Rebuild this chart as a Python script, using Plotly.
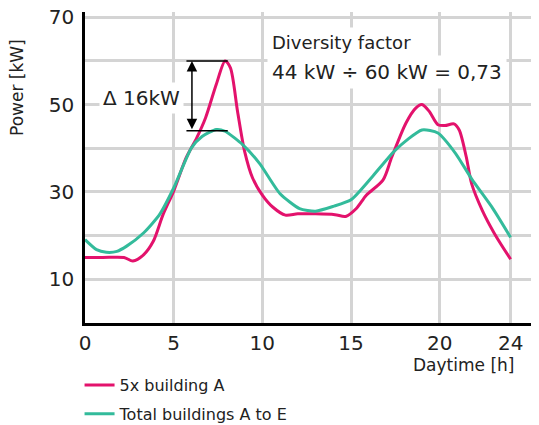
import plotly.graph_objects as go

# ---- data ----
hours_a = [0, 1, 2.2, 2.7, 3.3, 3.85, 4.4, 5, 5.7, 6.3, 6.8, 7.4, 7.9, 8.2, 8.6, 9.0, 9.45, 10,
           10.6, 11.3, 12, 13, 14.1, 14.7, 15.3, 15.85, 16.8, 17.3, 18.1, 18.65, 19, 19.4, 19.9,
           20.3, 20.8, 21.1, 21.5, 21.8, 22.4, 23.1, 24]
power_a = [15, 15, 15, 14.2, 15.6, 18.7, 24.8, 30.2, 37.8, 42.4, 47, 54.6, 60, 58.4, 48.5, 39.3, 33.2, 29.3,
           26.5, 24.7, 25, 25, 24.8, 24.4, 26.2, 29.2, 32.7, 38, 45.8, 49.2, 50, 48.5, 45.4,
           45.2, 45.6, 44.2, 38, 31.9, 25.8, 20.4, 14.6]

hours_t = [0, 0.65, 1.2, 1.8, 2.35, 3.3, 4.2, 5, 6, 6.6, 7.4, 7.9, 8.9, 9.85, 11, 12.1, 13, 14, 15,
           16.2, 17.5, 19, 19.9, 20.9, 21.8, 23, 24]
power_t = [19.1, 16.8, 16.2, 16.4, 17.6, 20.6, 24.8, 30.9, 40.1, 42.7, 44.3, 43.9, 40.8, 36.5, 29.6, 26.2,
           25.6, 26.7, 28.2, 33.5, 39.6, 44.2, 43.5, 38.8, 33, 26.2, 19.6]

series_names = ["5x building A", "Total buildings A to E"]
x_ticks = [0, 5, 10, 15, 20, 24]
y_grid = [10, 20, 30, 40, 50, 60, 70]
y_labels = ["10", "", "30", "", "50", "", "70"]

peak_a = 60
peak_t = 44
arrow_hour = 6.03

MAGENTA = "#E3126C"
GREEN = "#33BB9B"
GRID = "#D4D4D4"
TXT = "#222222"
FONT = "DejaVu Sans"

fig = go.Figure()
fig.add_trace(go.Scatter(x=hours_a, y=power_a, mode="lines", name=series_names[0], legendgroup="a",
                         line=dict(color=MAGENTA, width=3, shape="spline", smoothing=0.8)))
fig.add_trace(go.Scatter(x=hours_t, y=power_t, mode="lines", name=series_names[1], legendgroup="b",
                         line=dict(color=GREEN, width=3, shape="spline", smoothing=0.6)))

fig.update_layout(
    width=539, height=425,
    margin=dict(l=77, r=8, t=4, b=110, autoexpand=False),
    paper_bgcolor="white", plot_bgcolor="white",
    font=dict(family=FONT, color=TXT),
    showlegend=True,
    legend=dict(x=-0.012, y=-0.145, xanchor="left", yanchor="top", traceorder="grouped",
                font=dict(size=16, color=TXT), itemwidth=30, tracegroupgap=5,
                bgcolor="rgba(0,0,0,0)"),
    xaxis=dict(range=[0, 25.6], tickmode="array", tickvals=x_ticks,
               showgrid=True, gridcolor=GRID, gridwidth=2.5, zeroline=False, automargin=False,
               showline=True, linecolor="black", linewidth=2.5, ticks="",
               tickfont=dict(size=20, color=TXT), ticklabeloverflow="allow"),
    yaxis=dict(range=[0, 71.2], tickmode="array", tickvals=y_grid, ticktext=y_labels,
               showgrid=True, gridcolor=GRID, gridwidth=2.5, zeroline=False, automargin=False,
               showline=True, linecolor="black", linewidth=2.5, ticks="",
               tickfont=dict(size=20, color=TXT), ticklabelstandoff=4, ticklabeloverflow="allow"),
)

# horizontal marker lines
for yv in (peak_a, peak_t):
    fig.add_shape(type="line", xref="x", yref="y", x0=5.72, x1=8.05, y0=yv, y1=yv,
                  line=dict(color="black", width=1.5), layer="above")

# double-headed arrow
fig.add_annotation(x=arrow_hour, y=peak_a, ax=arrow_hour, ay=peak_t, xref="x", yref="y",
                   axref="x", ayref="y", text="", showarrow=True, arrowhead=2, arrowside="end+start",
                   arrowsize=1.4, arrowwidth=1.5, arrowcolor="black", standoff=0, startstandoff=0)

fig.add_annotation(x=(184 - 85) / 454, y=(323 - 98) / 311, xref="paper", yref="paper",
                   text="Δ 16kW", showarrow=False, xanchor="right", yanchor="middle",
                   font=dict(size=20, color=TXT), bgcolor="white", borderpad=3)

fig.add_annotation(x=(267 - 85) / 454, y=(323 - 42) / 311, xref="paper", yref="paper",
                   text="Diversity factor", showarrow=False, xanchor="left", yanchor="middle",
                   font=dict(size=18, color=TXT), bgcolor="white", borderpad=4)
fig.add_annotation(x=(267 - 85) / 454, y=(323 - 72) / 311, xref="paper", yref="paper",
                   text="44 kW ÷ 60 kW = 0,73", showarrow=False, xanchor="left", yanchor="middle",
                   font=dict(size=20, color=TXT), bgcolor="white", borderpad=4)

fig.add_annotation(x=(516 - 85) / 454, y=(323 - 365) / 311, xref="paper", yref="paper",
                   text="Daytime [h]", showarrow=False, xanchor="right", yanchor="middle",
                   font=dict(size=17, color=TXT))
fig.add_annotation(x=(17 - 85) / 454, y=(323 - 88) / 311, xref="paper", yref="paper",
                   text="Power [kW]", showarrow=False, xanchor="center", yanchor="middle",
                   textangle=-90, font=dict(size=17, color=TXT))

fig.write_html("out.html")
